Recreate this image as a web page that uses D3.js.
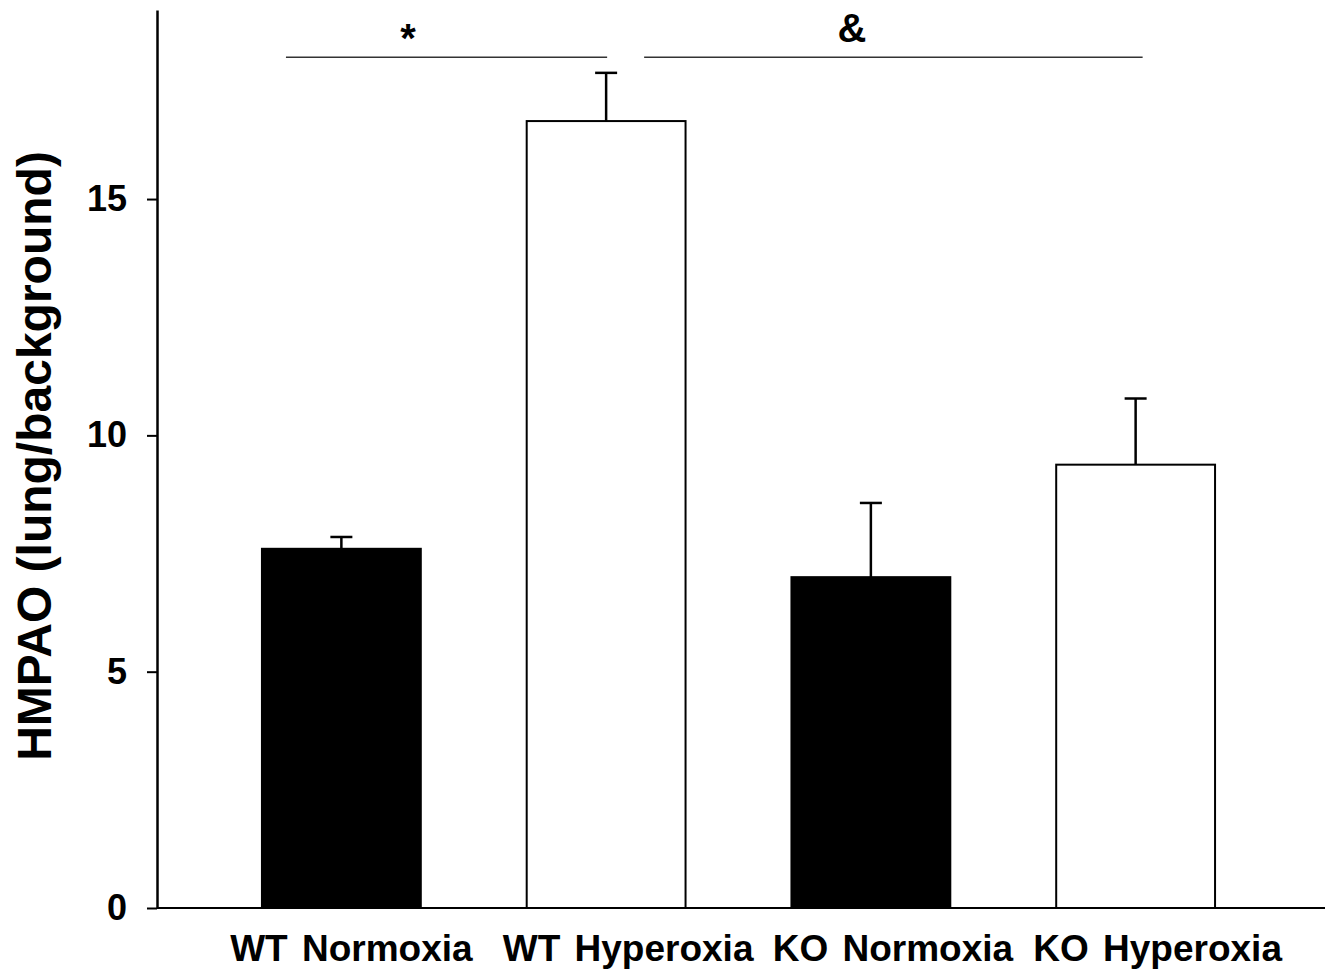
<!DOCTYPE html>
<html>
<head>
<meta charset="utf-8">
<script src="https://cdn.jsdelivr.net/npm/d3@7"></script>
<style>
  body { margin: 0; background: #fff; }
  text { font-family: "Liberation Sans", Arial, sans-serif; font-weight: bold; fill: #000; }
</style>
</head>
<body>
<div id="chart"></div>
<script>
// data
var groups = ["WT Normoxia", "WT Hyperoxia", "KO Normoxia", "KO Hyperoxia"];
var means = [7.6, 16.65, 7.0, 9.38];
var sems = [0.25, 1.02, 1.57, 1.4];
var fills = ["#000", "#fff", "#000", "#fff"];
var yTicks = [0, 5, 10, 15];
var sigLabels = ["*", "&"];

var w = 1328, h = 971;

var svg = d3.select("#chart")
    .append("svg")
    .attr("width", w)
    .attr("height", h);

var xScale = d3.scaleBand()
    .domain(groups)
    .range([209, 1268])
    .paddingInner(0.4)
    .paddingOuter(0.2);

var yScale = d3.scaleLinear()
    .domain([0, 19])
    .range([908, 10]);

// bars
svg.selectAll("rect.bar")
    .data(groups)
    .enter()
    .append("rect")
    .attr("class", "bar")
    .attr("x", function (d) { return xScale(d); })
    .attr("y", function (d, i) { return yScale(means[i]); })
    .attr("width", xScale.bandwidth())
    .attr("height", function (d, i) { return yScale(0) - yScale(means[i]); })
    .attr("fill", function (d, i) { return fills[i]; })
    .attr("stroke", "#000")
    .attr("stroke-width", 2);

// error bars (upper only)
var cx = function (d) { return xScale(d) + xScale.bandwidth() / 2; };
svg.selectAll("line.err")
    .data(groups)
    .enter()
    .append("line")
    .attr("x1", cx).attr("x2", cx)
    .attr("y1", function (d, i) { return yScale(means[i]); })
    .attr("y2", function (d, i) { return yScale(means[i] + sems[i]); })
    .attr("stroke", "#000")
    .attr("stroke-width", 2.5);
svg.selectAll("line.cap")
    .data(groups)
    .enter()
    .append("line")
    .attr("x1", function (d) { return cx(d) - 11; })
    .attr("x2", function (d) { return cx(d) + 11; })
    .attr("y1", function (d, i) { return yScale(means[i] + sems[i]); })
    .attr("y2", function (d, i) { return yScale(means[i] + sems[i]); })
    .attr("stroke", "#000")
    .attr("stroke-width", 2.5);

// y axis
var yAxis = d3.axisLeft(yScale)
    .tickValues(yTicks)
    .tickSize(10)
    .tickSizeOuter(0)
    .tickPadding(20);
var gy = svg.append("g")
    .attr("transform", "translate(157,0)")
    .call(yAxis);
gy.select(".domain").attr("stroke-width", 2.5);
gy.selectAll(".tick line").attr("stroke-width", 2);
gy.selectAll(".tick text")
    .attr("font-size", "36px")
    .attr("font-family", "Liberation Sans, Arial, sans-serif")
    .attr("font-weight", "bold");

// x axis line
svg.append("line")
    .attr("x1", 157).attr("x2", 1325)
    .attr("y1", yScale(0)).attr("y2", yScale(0))
    .attr("stroke", "#000")
    .attr("stroke-width", 2);

// x labels
svg.selectAll("text.xl")
    .data(groups)
    .enter()
    .append("text")
    .attr("class", "xl")
    .text(function (d) { return d; })
    .attr("text-anchor", "middle")
    .attr("x", function (d, i) { return cx(d) + (i === 0 ? 10 : 22); })
    .attr("y", 961)
    .attr("font-size", "37px")
    .style("word-spacing", "4px");

// y title
svg.append("text")
    .text("HMPAO (lung/background)")
    .attr("text-anchor", "middle")
    .attr("transform", "translate(51,456) rotate(-90)")
    .attr("font-size", "48px");

// significance lines
var sig = [
    { x1: xScale(groups[0]) + 24, x2: cx(groups[1]) + 1, tx: 408 },
    { x1: cx(groups[1]) + 38, x2: cx(groups[3]) + 7, tx: 852 }
];
svg.selectAll("line.sig")
    .data(sig)
    .enter()
    .append("line")
    .attr("x1", function (d) { return d.x1; })
    .attr("x2", function (d) { return d.x2; })
    .attr("y1", yScale(18))
    .attr("y2", yScale(18))
    .attr("stroke", "#333")
    .attr("stroke-width", 1.5);
svg.selectAll("text.sig")
    .data(sig)
    .enter()
    .append("text")
    .text(function (d, i) { return sigLabels[i]; })
    .attr("text-anchor", "middle")
    .attr("x", function (d) { return d.tx; })
    .attr("y", function (d, i) { return i === 0 ? 52 : 42; })
    .attr("font-size", "40px");
</script>
</body>
</html>
